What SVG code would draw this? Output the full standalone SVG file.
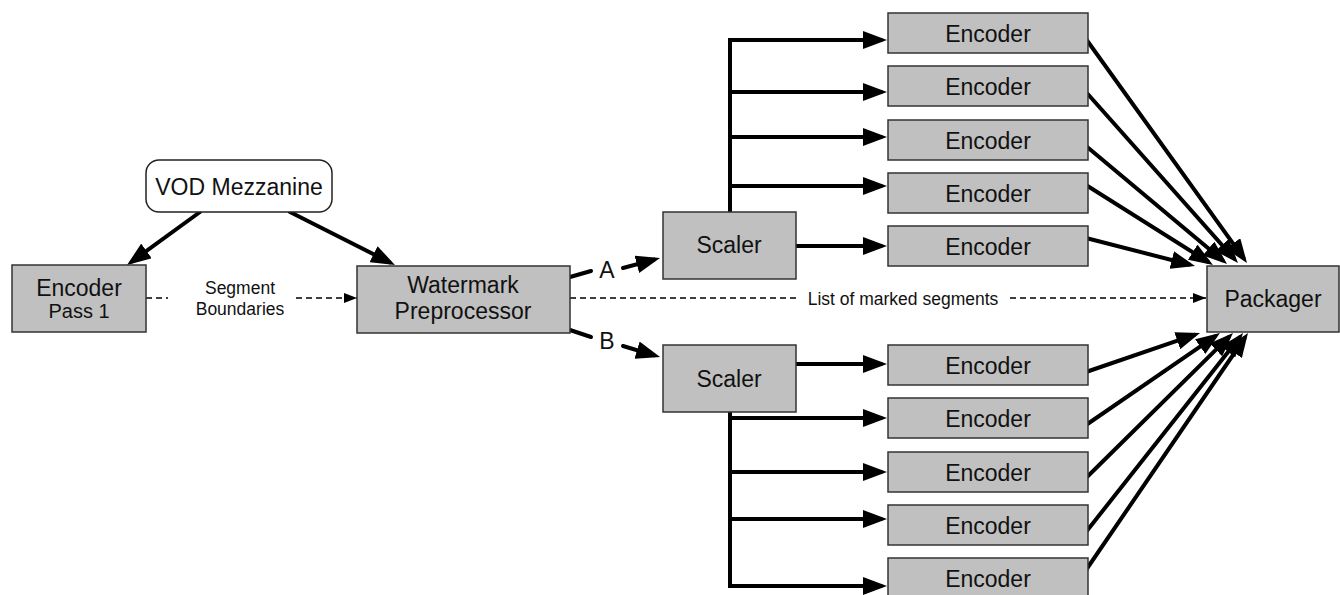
<svg xmlns="http://www.w3.org/2000/svg" width="1340" height="595" viewBox="0 0 1340 595">
<style>
.box{fill:#c0c0c0;stroke:#333;stroke-width:1.5}
.rbox{fill:#fff;stroke:#222;stroke-width:1.5}
.t{font-family:"Liberation Sans",Arial,sans-serif;fill:#111;text-anchor:middle}
.big{font-size:23px}
.med{font-size:20px}
.sm{font-size:17.5px}
.thick{stroke:#000;stroke-width:4;fill:none;stroke-linecap:round;stroke-linejoin:miter}
.thickm{marker-end:url(#ah)}
.dash{stroke:#000;stroke-width:1.5;fill:none;stroke-dasharray:6,4;marker-end:url(#dh)}
</style>
<defs>
<marker id="ah" markerUnits="userSpaceOnUse" markerWidth="24" markerHeight="18" refX="18" refY="9" orient="auto">
<path d="M0,0 L24,9 L0,18 z" fill="#000"/>
</marker>
<marker id="dh" markerUnits="userSpaceOnUse" markerWidth="13" markerHeight="10" refX="13" refY="5" orient="auto">
<path d="M0,0 L13,5 L0,10 z" fill="#000"/>
</marker>
</defs>
<rect width="1340" height="595" fill="#fff"/>

<g id="connectors">
<path class="thick thickm" d="M200,212 L131.9,261.5"/>
<path class="thick thickm" d="M290,212 L389.6,262.3"/>
<path class="thick" d="M570,277 L591,271"/>
<path class="thick thickm" d="M623,268 L654.2,259.6"/>
<path class="thick" d="M570,330 L591,337"/>
<path class="thick thickm" d="M623,346 L654.3,355.3"/>
<path class="dash" d="M146,298 H357"/>
<path class="dash" d="M570,298 H1206"/>
<path class="thick thickm" d="M730,212 V40 H881"/>
<path class="thick thickm" d="M730,92 H881"/>
<path class="thick thickm" d="M730,137 H881"/>
<path class="thick thickm" d="M730,186 H881"/>
<path class="thick thickm" d="M794,246 H881"/>
<path class="thick thickm" d="M730,412 V586 H881"/>
<path class="thick thickm" d="M794,364 H881"/>
<path class="thick thickm" d="M730,418 H881"/>
<path class="thick thickm" d="M730,472 H881"/>
<path class="thick thickm" d="M730,519 H881"/>
<path class="thick thickm" d="M1086,39 L1243.5,258.1"/>
<path class="thick thickm" d="M1086,92 L1234,258.5"/>
<path class="thick thickm" d="M1086,146 L1222.4,260.1"/>
<path class="thick thickm" d="M1086,185 L1207.9,261.8"/>
<path class="thick thickm" d="M1086,238 L1189.2,264.5"/>
<path class="thick thickm" d="M1086,372 L1194.3,334.9"/>
<path class="thick thickm" d="M1086,425 L1215,336.4"/>
<path class="thick thickm" d="M1086,478 L1228.7,337.2"/>
<path class="thick thickm" d="M1086,532 L1239.3,337.7"/>
<path class="thick thickm" d="M1086,570 L1244.6,338"/>
<rect x="168" y="278" width="124" height="42" fill="#fff"/>
<text class="t sm" x="240" y="294">Segment</text>
<text class="t sm" x="240" y="315">Boundaries</text>
<rect x="796" y="286" width="214" height="24" fill="#fff"/>
<text class="t sm" x="903" y="305">List of marked segments</text>
<text class="t big" x="607" y="278">A</text>
<text class="t big" x="607" y="349">B</text>
</g>

<g id="vod">
<rect class="rbox" x="146" y="160" width="186" height="52" rx="13"/>
<text class="t big" x="239" y="195">VOD Mezzanine</text>
</g>
<g id="enc-pass1">
<rect class="box" x="12" y="265" width="134" height="67"/>
<text class="t big" x="79" y="296">Encoder</text>
<text class="t med" x="79" y="318">Pass 1</text>
</g>
<g id="watermark">
<rect class="box" x="357" y="266" width="213" height="67"/>
<text class="t big" x="463" y="293">Watermark</text>
<text class="t big" x="463" y="319">Preprocessor</text>
</g>
<g id="scaler-a">
<rect class="box" x="663" y="212" width="133" height="67"/>
<text class="t big" x="729" y="253">Scaler</text>
</g>
<g id="scaler-b">
<rect class="box" x="663" y="345" width="133" height="67"/>
<text class="t big" x="729" y="387">Scaler</text>
</g>
<g id="enc-a1"><rect class="box" x="888" y="13" width="200" height="40"/><text class="t big" x="988" y="42">Encoder</text></g>
<g id="enc-a2"><rect class="box" x="888" y="66" width="200" height="40"/><text class="t big" x="988" y="95">Encoder</text></g>
<g id="enc-a3"><rect class="box" x="888" y="120" width="200" height="40"/><text class="t big" x="988" y="149">Encoder</text></g>
<g id="enc-a4"><rect class="box" x="888" y="173" width="200" height="40"/><text class="t big" x="988" y="202">Encoder</text></g>
<g id="enc-a5"><rect class="box" x="888" y="226" width="200" height="40"/><text class="t big" x="988" y="255">Encoder</text></g>
<g id="enc-b1"><rect class="box" x="888" y="345" width="200" height="40"/><text class="t big" x="988" y="374">Encoder</text></g>
<g id="enc-b2"><rect class="box" x="888" y="398" width="200" height="40"/><text class="t big" x="988" y="427">Encoder</text></g>
<g id="enc-b3"><rect class="box" x="888" y="452" width="200" height="40"/><text class="t big" x="988" y="481">Encoder</text></g>
<g id="enc-b4"><rect class="box" x="888" y="505" width="200" height="40"/><text class="t big" x="988" y="534">Encoder</text></g>
<g id="enc-b5"><rect class="box" x="888" y="558" width="200" height="40"/><text class="t big" x="988" y="587">Encoder</text></g>
<g id="packager">
<rect class="box" x="1207" y="266" width="132" height="66"/>
<text class="t big" x="1273" y="307">Packager</text>
</g>
</svg>
